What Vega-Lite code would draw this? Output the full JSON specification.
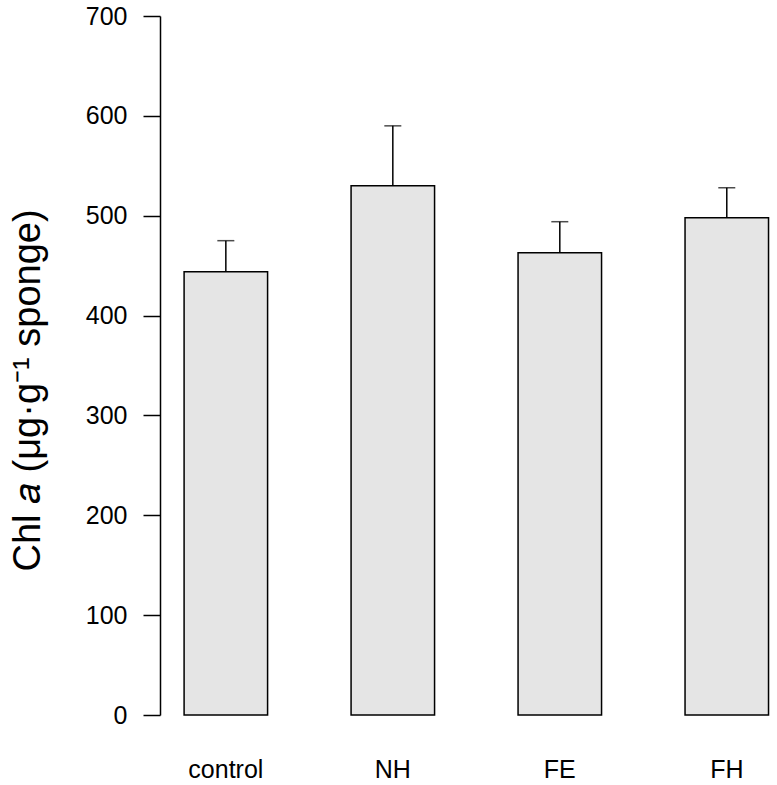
{
  "$schema": "https://vega.github.io/schema/vega-lite/v6.json",
  "autosize": {"type": "none"},
  "padding": {"left": 160, "top": 16, "right": 0, "bottom": 70},
  "width": 617,
  "height": 699,
  "background": "white",
  "config": {"view": {"stroke": null}, "font": "Liberation Sans"},
  "data": {"values": [
    {"group": "control", "mean": 444, "upper": 475},
    {"group": "NH", "mean": 530, "upper": 590},
    {"group": "FE", "mean": 463, "upper": 494},
    {"group": "FH", "mean": 498, "upper": 528}
  ]},
  "encoding": {
    "x": {"field": "group", "type": "nominal", "sort": null,
      "scale": {"paddingInner": 0.5, "paddingOuter": 0.0975, "align": 0.74},
      "axis": {"title": null, "domain": false, "ticks": false, "tickSize": 0, "labelAngle": 0,
        "labelFontSize": 25, "labelColor": "black", "labelBaseline": "alphabetic", "labelPadding": 62, "labelFont": "Liberation Sans"}}
  },
  "layer": [
    {"mark": {"type": "bar", "fill": "#e5e5e5", "stroke": "black", "strokeWidth": 1.5},
     "encoding": {
       "y": {"field": "mean", "type": "quantitative",
         "scale": {"domain": [0, 700], "nice": false, "zero": true},
         "axis": {"title": "Chl 𝑎 (μg·g⁻¹ sponge)", "values": [0,100,200,300,400,500,600,700],
           "grid": false, "domainColor": "black", "domainWidth": 1.5, "tickColor": "black", "tickWidth": 1.5,
           "tickSize": 17, "labelPadding": 16, "labelFontSize": 25, "labelColor": "black", "labelFont": "Liberation Sans",
           "titleFontSize": 38, "titleFontWeight": "normal", "titleColor": "black", "titleFont": "Liberation Sans",
           "titleX": -121, "titleY": 374, "titleBaseline": "alphabetic", "titleAlign": "center", "titleAngle": -90}}
     }},
    {"mark": {"type": "rule", "stroke": "black", "strokeWidth": 1.5},
     "encoding": {"y": {"field": "mean", "type": "quantitative"}, "y2": {"field": "upper"}}},
    {"mark": {"type": "tick", "color": "black", "size": 17, "thickness": 1.5, "orient": "horizontal"},
     "encoding": {"y": {"field": "upper", "type": "quantitative"}}}
  ]
}
